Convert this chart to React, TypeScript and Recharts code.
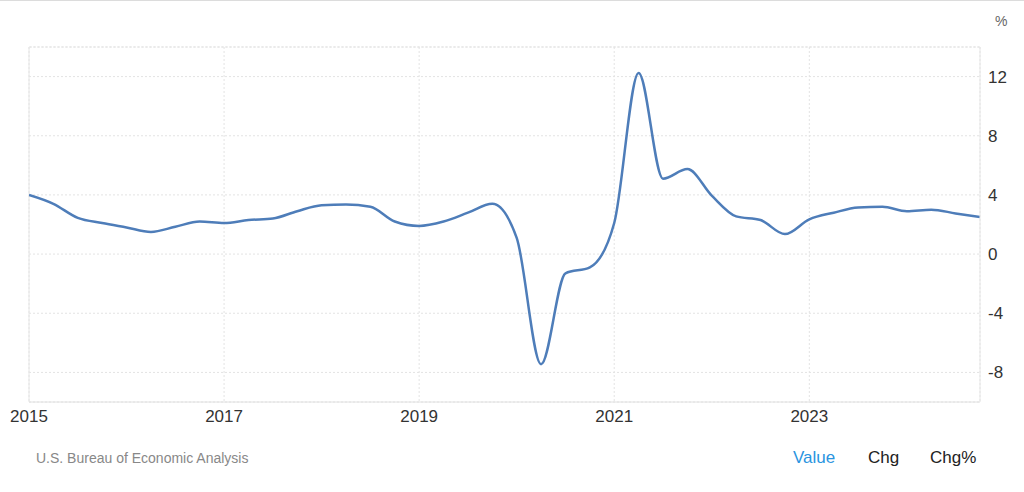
import React from 'react';
import { LineChart, Line, XAxis, YAxis, CartesianGrid, ReferenceLine } from 'recharts';

// quarterly real GDP growth, year over year (%), 2015 Q1 .. 2024 Q4
const startYear = 2015;
const growth: number[] = [
  4.0, 3.4, 2.45, 2.1,
  1.8, 1.5, 1.85, 2.2,
  2.1, 2.3, 2.4, 2.9,
  3.3, 3.35, 3.2, 2.2,
  1.9, 2.2, 2.8, 3.4,
  1.1, -7.45, -1.3, -0.9,
  2.1, 12.25, 5.1, 5.75,
  3.95, 2.55, 2.3, 1.35,
  2.35, 2.8, 3.15, 3.2,
  2.9, 3.0, 2.75, 2.5,
];
const yearTicks = [2015, 2017, 2019, 2021, 2023];
const valueTicks = [-8, -4, 0, 4, 8, 12];

const data = growth.map((value, i) => ({ t: startYear + i / 4, value }));

const font = '"Liberation Sans", Arial, sans-serif';

export default function App() {
  return (
    <div style={{ position: 'absolute', left: 0, top: 0, width: 1024, height: 492, background: '#fff', fontFamily: font, borderTop: '1px solid #dcdcdc', boxSizing: 'border-box' }}>
      <div style={{ position: 'absolute', left: 995, top: 12, fontSize: 14, color: '#666' }}>%</div>
      <LineChart width={1024} height={491} data={data} margin={{ top: 46, right: 0, bottom: 60, left: 29 }}>
        <CartesianGrid stroke="#e3e3e3" strokeDasharray="2 2" />
        <ReferenceLine y={14} stroke="#e3e3e3" strokeDasharray="2 2" />
        <ReferenceLine x={2015} stroke="#e6e6e6" />
        <XAxis
          dataKey="t"
          type="number"
          domain={[2015, 2024.75]}
          allowDataOverflow
          ticks={yearTicks}
          height={30}
          stroke="#e0e0e0"
          tickLine={false}
          tick={{ fill: '#333', fontSize: 17, fontFamily: font }}
        />
        <YAxis
          orientation="right"
          domain={[-10, 14]}
          allowDataOverflow
          ticks={valueTicks}
          width={44}
          stroke="#e6e6e6"
          tickLine={false}
          tick={{ fill: '#333', fontSize: 17, fontFamily: font }}
        />
        <Line
          type="monotone"
          dataKey="value"
          stroke="#4e7db9"
          strokeWidth={2.5}
          dot={false}
          isAnimationActive={false}
        />
      </LineChart>
      <div style={{ position: 'absolute', left: 36, top: 449, fontSize: 14, color: '#888' }}>U.S. Bureau of Economic Analysis</div>
      <div style={{ position: 'absolute', left: 793, top: 447, fontSize: 17, color: '#2a94e0' }}>Value</div>
      <div style={{ position: 'absolute', left: 868, top: 447, fontSize: 17, color: '#222' }}>Chg</div>
      <div style={{ position: 'absolute', left: 930, top: 447, fontSize: 17, color: '#222' }}>Chg%</div>
    </div>
  );
}
